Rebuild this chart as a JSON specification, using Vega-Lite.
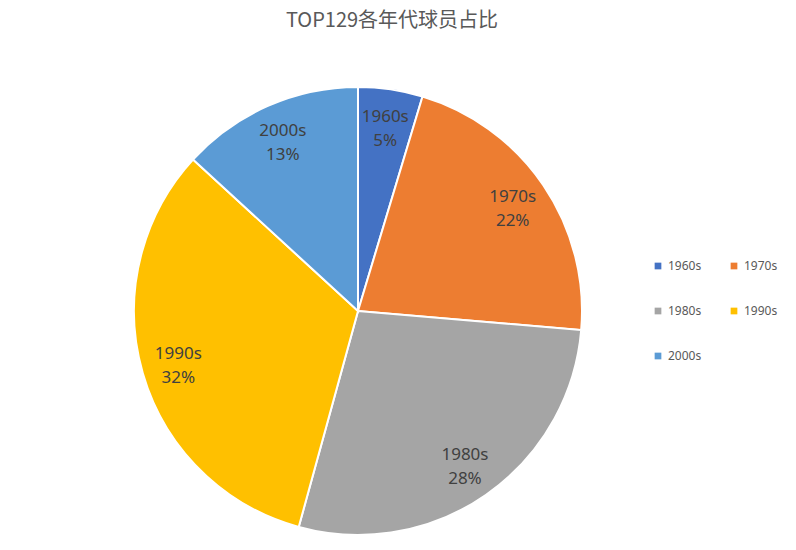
{
  "$schema": "https://vega.github.io/schema/vega-lite/v6.json",
  "autosize": {"type": "none"},
  "width": 716,
  "height": 448,
  "padding": {"left": 0, "top": 87, "right": 80, "bottom": 15},
  "background": "white",
  "title": {
    "text": "TOP129各年代球员占比",
    "font": "Noto Sans CJK SC",
    "fontSize": 20,
    "fontWeight": "normal",
    "color": "#595959",
    "dx": 34,
    "offset": 52
  },
  "data": {
    "values": [
      {"decade": "1960s", "players": 6, "share": "5%"},
      {"decade": "1970s", "players": 28, "share": "22%"},
      {"decade": "1980s", "players": 36, "share": "28%"},
      {"decade": "1990s", "players": 42, "share": "32%"},
      {"decade": "2000s", "players": 17, "share": "13%"}
    ]
  },
  "transform": [
    {"calculate": "[datum.decade, datum.share]", "as": "label"}
  ],
  "encoding": {
    "theta": {"field": "players", "type": "quantitative", "stack": true},
    "order": {"field": "decade", "type": "ordinal"},
    "color": {
      "field": "decade",
      "type": "nominal",
      "scale": {
        "domain": ["1960s", "1970s", "1980s", "1990s", "2000s"],
        "range": ["#4472C4", "#ED7D31", "#A5A5A5", "#FFC000", "#5B9BD5"]
      },
      "legend": {
        "title": null,
        "orient": "none",
        "legendX": 652,
        "legendY": 173,
        "columns": 2,
        "direction": "horizontal",
        "symbolType": "square",
        "symbolSize": 45,
        "symbolStrokeWidth": 0,
        "labelFont": "Noto Sans",
        "labelFontSize": 12,
        "labelColor": "#595959",
        "columnPadding": 26,
        "rowPadding": 33,
        "labelOffset": 4
      }
    }
  },
  "layer": [
    {
      "mark": {"type": "arc", "stroke": "white", "strokeWidth": 2, "outerRadius": 224}
    },
    {
      "mark": {
        "type": "text",
        "radius": 187,
        "fontSize": 17,
        "font": "Noto Sans",
        "color": "#404040",
        "lineHeight": 24,
        "baseline": "middle",
        "dy": -9
      },
      "encoding": {
        "text": {"field": "label"},
        "color": {"value": "#404040"}
      }
    }
  ]
}
